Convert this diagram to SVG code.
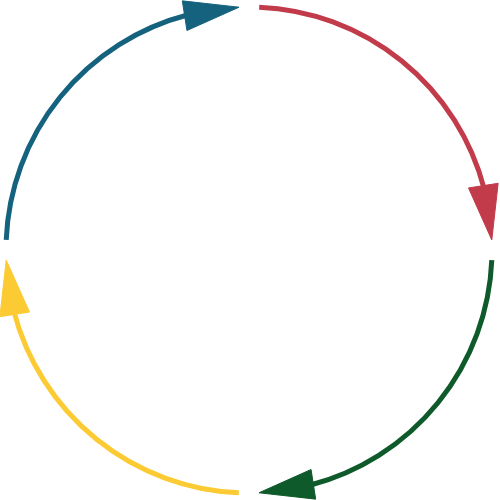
<svg xmlns="http://www.w3.org/2000/svg" width="500" height="500" viewBox="0 0 500 500">
<style>
.arc{fill:none;stroke-width:5;stroke-linecap:butt}
</style>
<defs>
<g id="q">
<path class="arc" d="M10.18,-242.79 A243,243 0 0 1 235.26,-60.84"/>
<polygon points="242.79,-10 249.14,-66.68 219.5,-62.06"/>
</g>
</defs>
<rect width="500" height="500" fill="#fff"/>
<g id="connectors">
<g id="red" transform="translate(249,250)" fill="#C23B4A" stroke="#C23B4A"><use href="#q"/></g>
<g id="green" transform="translate(249,250) rotate(90)" fill="#0F5A2B" stroke="#0F5A2B"><use href="#q"/></g>
<g id="yellow" transform="translate(249,250) rotate(180)" fill="#FCCB33" stroke="#FCCB33"><use href="#q"/></g>
<g id="blue" transform="translate(249,250) rotate(270)" fill="#15627F" stroke="#15627F"><use href="#q"/></g>
</g>
</svg>
